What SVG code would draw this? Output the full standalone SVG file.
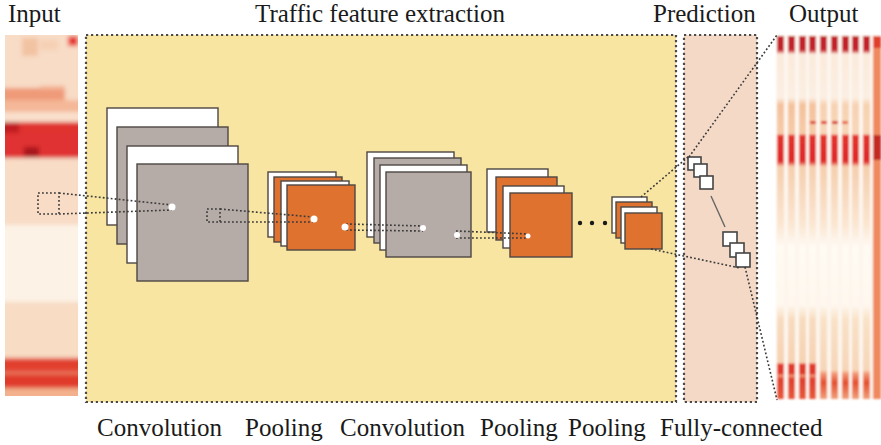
<svg xmlns="http://www.w3.org/2000/svg" width="881" height="445" viewBox="0 0 881 445">
  <style>
    .lbl { font-family: "Liberation Serif", "Times New Roman", serif; font-size: 25px; fill: #1a1a1a; }
    .frame { stroke: #4a4a4a; stroke-width: 2.2; stroke-dasharray: 2.2 2.8; }
    .conv { fill: #b6aca7; stroke: #4d4744; stroke-width: 1.4; }
    .pool { fill: #e0722f; stroke: #4d4744; stroke-width: 1.4; }
    .blank { fill: #ffffff; stroke: #4d4744; stroke-width: 1.4; }
    .fc { fill: #ffffff; stroke: #444; stroke-width: 1.6; }
    .dot { stroke: #3a3a3a; stroke-width: 1.6; stroke-dasharray: 1.8 2.2; fill: none; }
    .pt { fill: #ffffff; }
  </style>
  <defs>
    <filter id="soft" x="-5%" y="-5%" width="110%" height="110%">
      <feGaussianBlur stdDeviation="1.3"/>
    </filter>
    <filter id="softer" x="-5%" y="-5%" width="110%" height="110%">
      <feGaussianBlur stdDeviation="2"/>
    </filter>
    <clipPath id="inClip"><rect x="5" y="35" width="73" height="361"/></clipPath>
    <linearGradient id="col" x1="0" y1="0" x2="0" y2="1" gradientUnits="objectBoundingBox">
      <stop offset="0" stop-color="#c4232b"/>
      <stop offset="0.038" stop-color="#c4232b"/>
      <stop offset="0.05" stop-color="#fbeadb"/>
      <stop offset="0.17" stop-color="#fbeee2"/>
      <stop offset="0.19" stop-color="#f4c29c"/>
      <stop offset="0.27" stop-color="#f6cba8"/>
      <stop offset="0.275" stop-color="#e3322c"/>
      <stop offset="0.345" stop-color="#e02a28"/>
      <stop offset="0.36" stop-color="#f5cfae"/>
      <stop offset="0.52" stop-color="#fbe6d2"/>
      <stop offset="0.58" stop-color="#fffaf3"/>
      <stop offset="0.74" stop-color="#fff8ef"/>
      <stop offset="0.78" stop-color="#f8dcc0"/>
      <stop offset="0.9" stop-color="#f6d2b2"/>
      <stop offset="0.905" stop-color="#e23a2c"/>
      <stop offset="0.93" stop-color="#e03a2c"/>
      <stop offset="0.935" stop-color="#f39a78"/>
      <stop offset="0.945" stop-color="#e0402c"/>
      <stop offset="1" stop-color="#e85a3a"/>
    </linearGradient>
    <linearGradient id="colLight" x1="0" y1="0" x2="0" y2="1" gradientUnits="objectBoundingBox">
      <stop offset="0" stop-color="#c4232b"/>
      <stop offset="0.038" stop-color="#c4232b"/>
      <stop offset="0.05" stop-color="#fbeadb"/>
      <stop offset="0.17" stop-color="#fbeee2"/>
      <stop offset="0.19" stop-color="#f7d2b2"/>
      <stop offset="0.27" stop-color="#f8d6b8"/>
      <stop offset="0.275" stop-color="#e3322c"/>
      <stop offset="0.345" stop-color="#e02a28"/>
      <stop offset="0.36" stop-color="#f5cfae"/>
      <stop offset="0.52" stop-color="#fbe6d2"/>
      <stop offset="0.58" stop-color="#fffaf3"/>
      <stop offset="0.74" stop-color="#fff8ef"/>
      <stop offset="0.78" stop-color="#f9e2c8"/>
      <stop offset="0.92" stop-color="#f7d6b8"/>
      <stop offset="0.93" stop-color="#f39a78"/>
      <stop offset="0.955" stop-color="#e5502e"/>
      <stop offset="1" stop-color="#f0a07a"/>
    </linearGradient>
  </defs>

  <rect width="881" height="445" fill="#ffffff"/>

  <!-- titles -->
  <g id="titles">
    <text class="lbl" x="8" y="22">Input</text>
    <text class="lbl" x="255" y="22">Traffic feature extraction</text>
    <text class="lbl" x="653" y="22">Prediction</text>
    <text class="lbl" x="789" y="22">Output</text>
  </g>

  <!-- input heat strip -->
  <g id="input" clip-path="url(#inClip)">
    <g filter="url(#softer)">
      <rect x="0" y="30" width="83" height="370" fill="#f8dcc6"/>
      <rect x="22" y="38" width="16" height="18" fill="#f2c3a2"/>
      <rect x="40" y="40" width="18" height="10" fill="#f6d0b4"/>
      <rect x="68" y="36" width="10" height="10" fill="#e8302e"/>
      <rect x="0" y="88" width="65" height="12" fill="#ef9a78"/>
      <rect x="40" y="86" width="25" height="4" fill="#f2b090"/>
      <rect x="0" y="100" width="83" height="12" fill="#f4b898"/>
      <rect x="0" y="112" width="83" height="9" fill="#f9e0cc"/>
      <rect x="0" y="122" width="83" height="12" fill="#e0302e"/>
      <rect x="0" y="122" width="19" height="12" fill="#c01c24"/>
      <rect x="0" y="133" width="83" height="25" fill="#e03130"/>
      <rect x="24" y="147" width="15" height="10" fill="#a8181c"/>
      <rect x="0" y="158" width="83" height="67" fill="#f8dcc6"/>
      <rect x="0" y="225" width="83" height="77" fill="#fdf2e6"/>
      <rect x="0" y="302" width="83" height="56" fill="#f8dcc4"/>
      <rect x="0" y="358" width="83" height="14" fill="#e2402e"/>
      <rect x="0" y="372" width="83" height="2" fill="#f09070"/>
      <rect x="0" y="374" width="83" height="14" fill="#e03a2c"/>
      <rect x="0" y="388" width="83" height="12" fill="#f3b08c"/>
    </g>
  </g>

  <!-- output heat strip -->
  <g id="output" filter="url(#soft)">
    <rect x="776" y="35" width="105" height="364" fill="#fdf6ee"/>
    <rect x="777" y="36" width="7" height="363" fill="url(#col)"/>
    <rect x="788" y="36" width="7" height="363" fill="url(#col)"/>
    <rect x="799" y="36" width="7" height="363" fill="url(#col)"/>
    <rect x="809" y="36" width="7" height="363" fill="url(#col)"/>
    <rect x="820" y="36" width="7" height="363" fill="url(#colLight)"/>
    <rect x="831" y="36" width="7" height="363" fill="url(#colLight)"/>
    <rect x="842" y="36" width="7" height="363" fill="url(#colLight)"/>
    <rect x="852" y="36" width="7" height="363" fill="url(#colLight)"/>
    <rect x="863" y="36" width="7" height="363" fill="url(#colLight)"/>
    <rect x="810" y="121" width="6" height="3" fill="#e04a36"/>
    <rect x="821" y="121" width="6" height="3" fill="#e03a2c"/>
    <rect x="832" y="121" width="6" height="3" fill="#d8302a"/>
    <rect x="842" y="121" width="6" height="3" fill="#e86a4a"/>
    <rect x="873" y="36" width="8" height="363" fill="#ef8a5e"/>
    <rect x="873" y="36" width="8" height="12" fill="#e0402c"/>
    <rect x="873" y="135" width="8" height="25" fill="#c42a24"/>
  </g>

  <!-- feature extraction and prediction panels -->
  <g id="extraction-panel">
    <rect x="86" y="35" width="590" height="367" fill="#f8e5a1" class="frame"/>
  </g>
  <g id="prediction-panel">
    <rect x="684" y="35" width="73" height="367" fill="#f4d9c7" class="frame"/>
  </g>

  <!-- first convolution -->
  <g id="conv1">
    <rect class="blank" x="107" y="108" width="111" height="117"/>
    <rect class="conv" x="117" y="127" width="111" height="117"/>
    <rect class="blank" x="127" y="146" width="111" height="117"/>
    <rect class="conv" x="137" y="164" width="111" height="117"/>
  </g>

  <!-- first pooling -->
  <g id="pool1">
    <rect class="blank" x="268" y="172" width="68" height="65"/>
    <rect class="pool" x="274" y="177" width="68" height="65"/>
    <rect class="blank" x="281" y="181" width="68" height="65"/>
    <rect class="pool" x="287" y="185" width="68" height="65"/>
  </g>

  <!-- second convolution -->
  <g id="conv2">
    <rect class="blank" x="367" y="152" width="87" height="85"/>
    <rect class="conv" x="374" y="158" width="87" height="85"/>
    <rect class="blank" x="380" y="165" width="87" height="85"/>
    <rect class="conv" x="386" y="172" width="85" height="85"/>
  </g>

  <!-- second pooling -->
  <g id="pool2">
    <rect class="blank" x="487" y="169" width="61" height="63"/>
    <rect class="pool" x="496" y="177" width="61" height="63"/>
    <rect class="blank" x="503" y="186" width="61" height="62"/>
    <rect class="pool" x="510" y="193" width="62" height="64"/>
  </g>

  <!-- ellipsis -->
  <g id="ellipsis" fill="#1a1a1a">
    <circle cx="580" cy="223" r="2.2"/>
    <circle cx="592" cy="223" r="2.2"/>
    <circle cx="605" cy="223" r="2.2"/>
  </g>

  <!-- final pooling -->
  <g id="pool3">
    <rect class="blank" x="612" y="197" width="35" height="36"/>
    <rect class="pool" x="616" y="202" width="36" height="36"/>
    <rect class="blank" x="621" y="207" width="36" height="36"/>
    <rect class="pool" x="625" y="213" width="37" height="36"/>
  </g>

  <!-- fully-connected units -->
  <g id="fc-top">
    <rect class="fc" x="688" y="157" width="13" height="13"/>
    <rect class="fc" x="694" y="164" width="13" height="13"/>
    <rect class="fc" x="700" y="176" width="13" height="13"/>
  </g>
  <g id="fc-bottom">
    <rect class="fc" x="723" y="232" width="14" height="14"/>
    <rect class="fc" x="730" y="243" width="14" height="14"/>
    <rect class="fc" x="736" y="253" width="14" height="14"/>
  </g>

  <!-- connectors -->
  <g id="connectors">
    <rect class="dot" x="38" y="193" width="21" height="21"/>
    <path class="dot" d="M59 193 L172 205 M59 214 L172 210"/>
    <rect class="dot" x="207" y="209" width="13" height="13"/>
    <path class="dot" d="M220 209 L313 217 M220 222 L313 222"/>
    <path class="dot" d="M346 224 L423 226 M346 230 L423 231"/>
    <path class="dot" d="M456 231 L528 234 M456 238 L528 238" stroke="#2c3a4a"/>
    <path class="dot" d="M641 197 L688 157"/>
    <path class="dot" d="M651 249 L740 268"/>
    <path class="dot" d="M689 157 L777 35" stroke-width="1.1"/>
    <path class="dot" d="M745 267 L777 400" stroke-width="1.3"/>
    <path d="M711 196 L725 227" stroke="#666" stroke-width="1.4" fill="none"/>
    <circle class="pt" cx="172" cy="207" r="3.5"/>
    <circle class="pt" cx="314" cy="219" r="3.5"/>
    <circle class="pt" cx="345" cy="227" r="3.5"/>
    <circle class="pt" cx="423" cy="228" r="3"/>
    <circle class="pt" cx="457" cy="235" r="3"/>
    <circle class="pt" cx="528" cy="236" r="2.5"/>
  </g>

  <!-- layer labels -->
  <g id="layer-labels">
    <text class="lbl" x="97" y="436">Convolution</text>
    <text class="lbl" x="245" y="436">Pooling</text>
    <text class="lbl" x="340" y="436">Convolution</text>
    <text class="lbl" x="480" y="436">Pooling</text>
    <text class="lbl" x="568" y="436">Pooling</text>
    <text class="lbl" x="660" y="436">Fully-connected</text>
  </g>
</svg>
